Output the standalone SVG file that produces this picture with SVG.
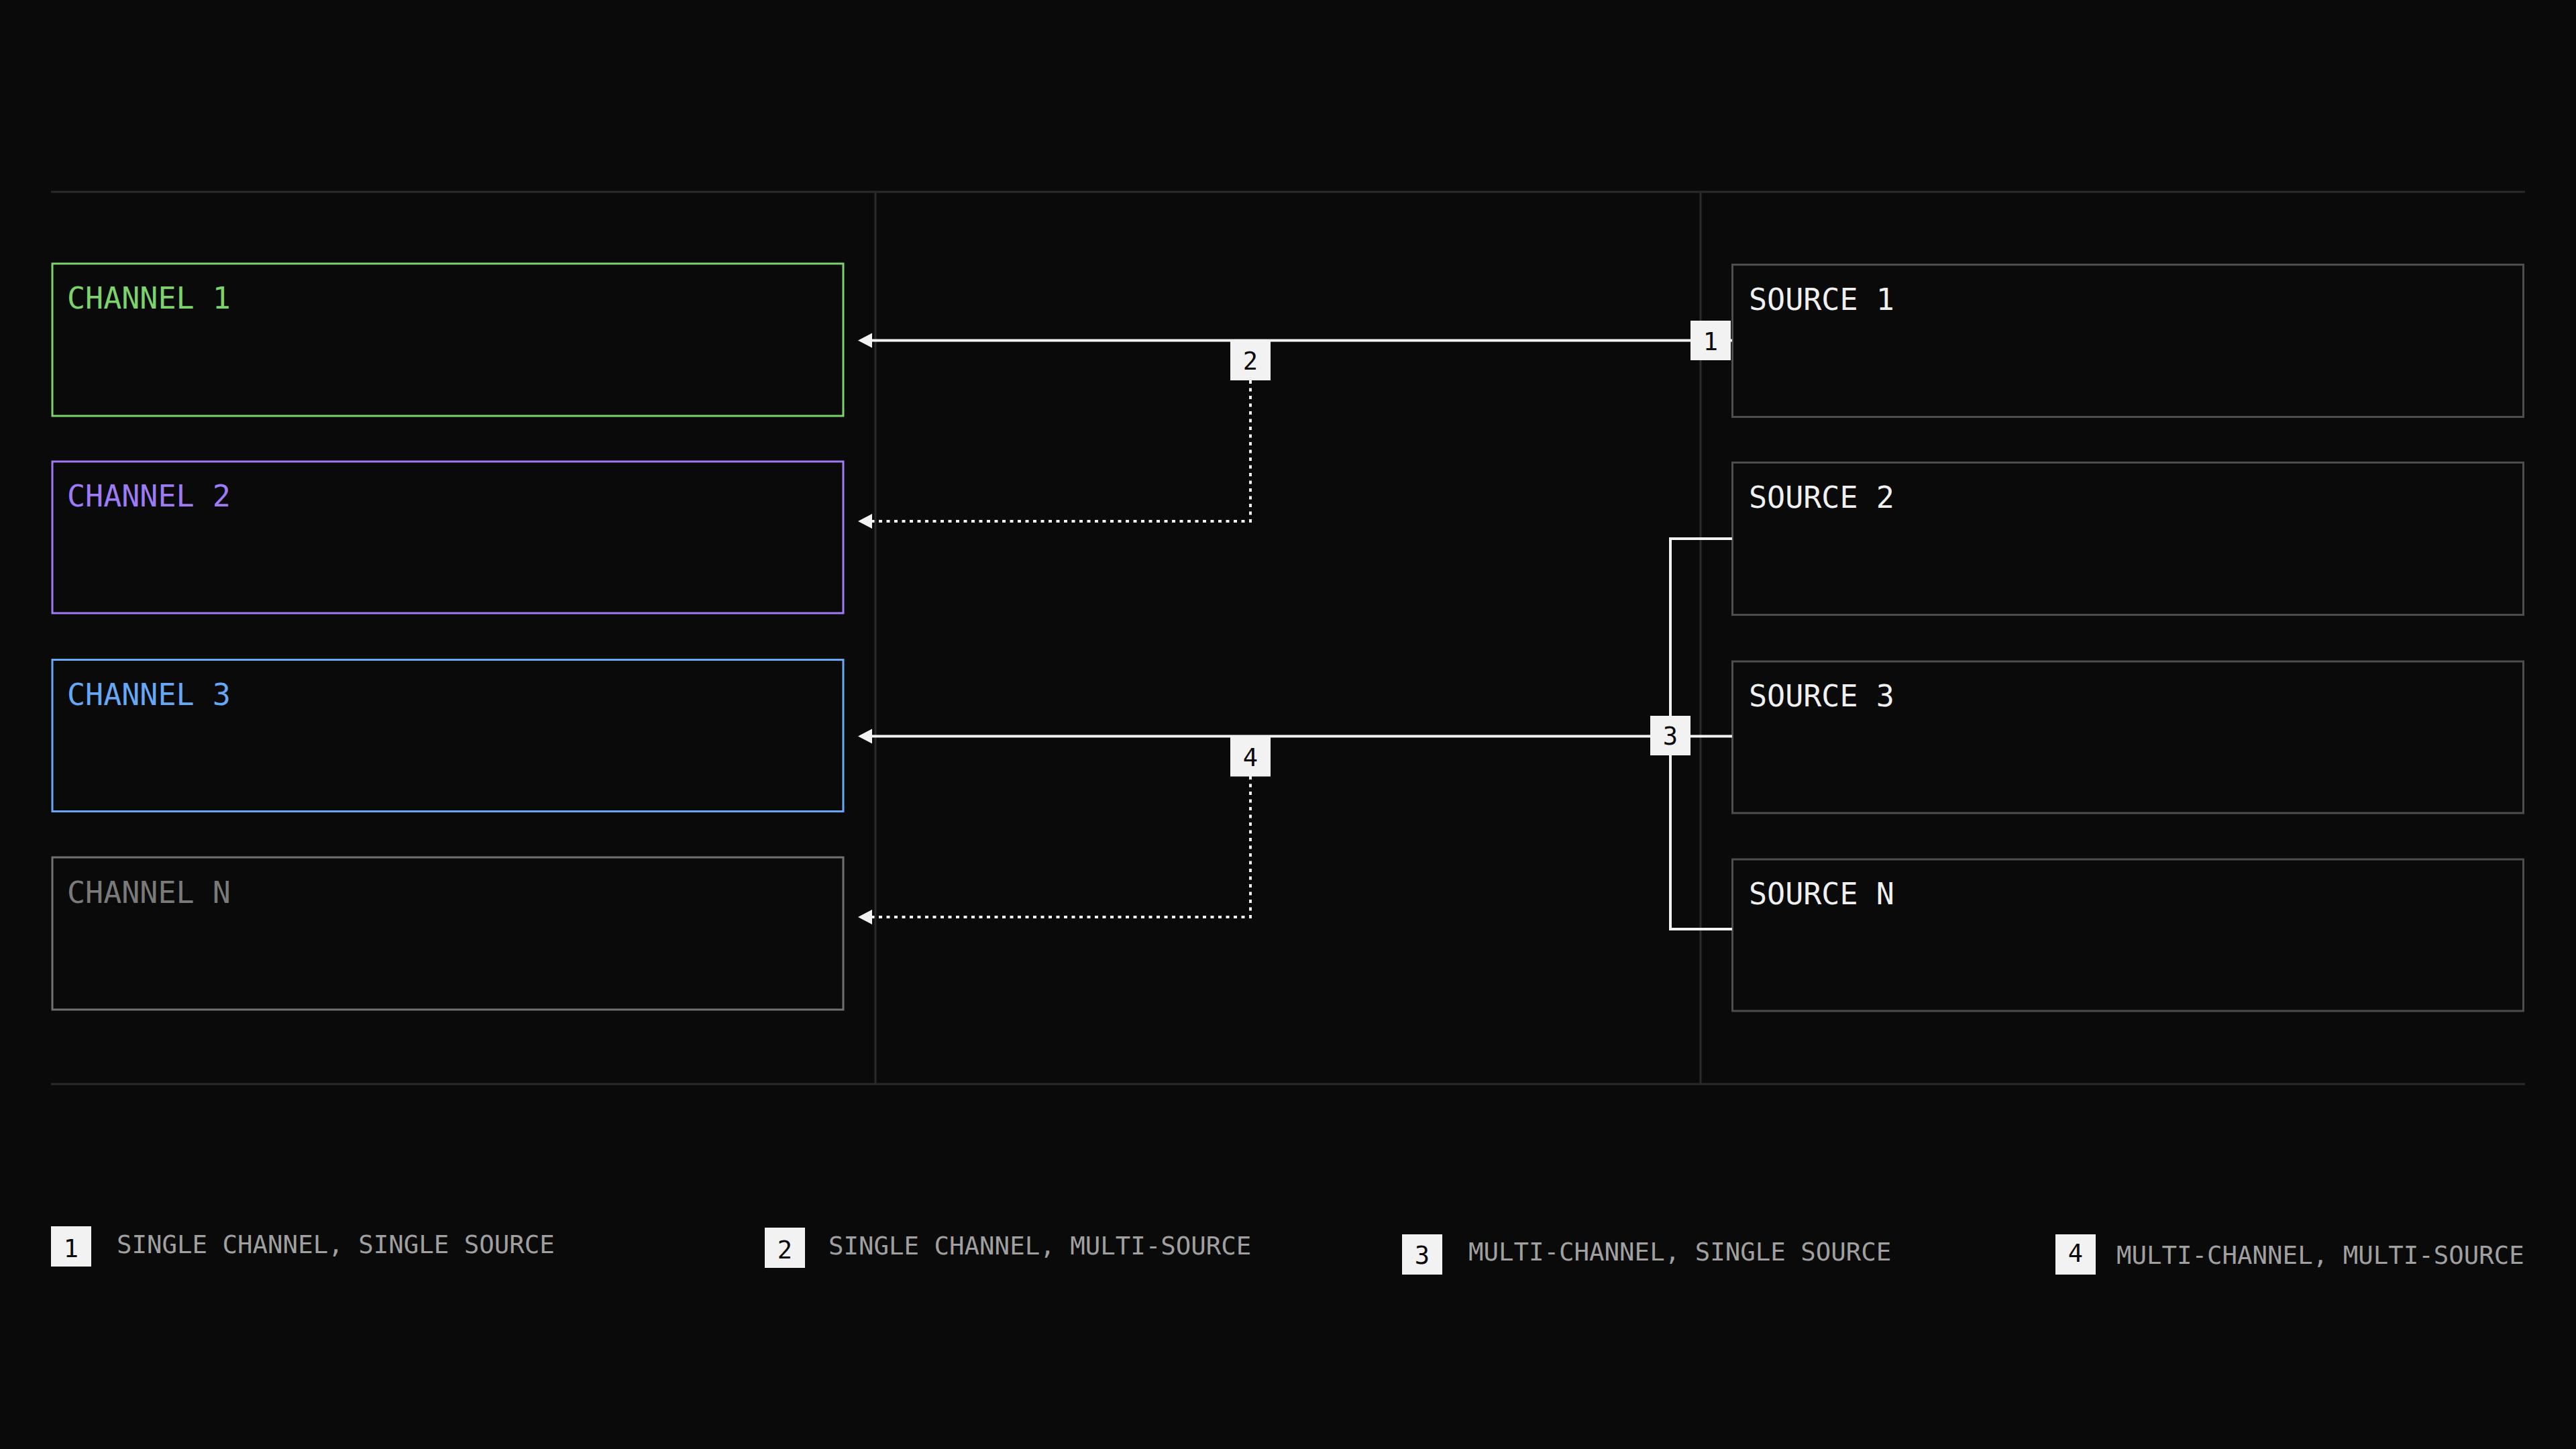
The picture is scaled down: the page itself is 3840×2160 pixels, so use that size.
<svg xmlns="http://www.w3.org/2000/svg" width="3840" height="2160" viewBox="0 0 3840 2160">
<style>
.grid{stroke:#2a2a2a;stroke-width:3;fill:none}
.box{fill:#0a0a0a;stroke-width:3}
.lbl{font-family:"DejaVu Sans Mono","Liberation Mono",monospace;font-size:45px}
.conn{stroke:#f2f2f2;stroke-width:4;fill:none}
.dot{stroke-dasharray:5 6.5}
.head{fill:#f2f2f2}
.tag{fill:#f2f2f2}
.tagt{font-family:"DejaVu Sans Mono","Liberation Mono",monospace;font-size:37px;fill:#0a0a0a;text-anchor:middle}
.leg{font-family:"DejaVu Sans Mono","Liberation Mono",monospace;font-size:37.4px;fill:#a0a0a0}
</style>
<rect x="0" y="0" width="3840" height="2160" fill="#0a0a0a"/>
<g id="grid">
<line class="grid" x1="76" y1="286" x2="3764" y2="286"/>
<line class="grid" x1="76" y1="1616" x2="3764" y2="1616"/>
<line class="grid" x1="1305" y1="286" x2="1305" y2="1616"/>
<line class="grid" x1="2535" y1="286" x2="2535" y2="1616"/>
</g>
<g id="channel-1"><rect class="box" x="78" y="393" width="1179" height="227" stroke="#7dd26c"/><text class="lbl" x="100" y="460" fill="#7dd26c">CHANNEL 1</text></g>
<g id="channel-2"><rect class="box" x="78" y="688" width="1179" height="226" stroke="#9d7bf5"/><text class="lbl" x="100" y="755" fill="#9d7bf5">CHANNEL 2</text></g>
<g id="channel-3"><rect class="box" x="78" y="983.5" width="1179" height="226" stroke="#66a8f5"/><text class="lbl" x="100" y="1051" fill="#66a8f5">CHANNEL 3</text></g>
<g id="channel-n"><rect class="box" x="78" y="1278" width="1179" height="227" stroke="#707070"/><text class="lbl" x="100" y="1346" fill="#7a7a7a">CHANNEL N</text></g>
<g id="source-1"><rect class="box" x="2582.5" y="394.5" width="1179" height="227" stroke="#4d4d4d"/><text class="lbl" x="2607" y="462" fill="#f0f0f0">SOURCE 1</text></g>
<g id="source-2"><rect class="box" x="2582.5" y="689.5" width="1179" height="227" stroke="#4d4d4d"/><text class="lbl" x="2607" y="757" fill="#f0f0f0">SOURCE 2</text></g>
<g id="source-3"><rect class="box" x="2582.5" y="986" width="1179" height="226" stroke="#4d4d4d"/><text class="lbl" x="2607" y="1053" fill="#f0f0f0">SOURCE 3</text></g>
<g id="source-n"><rect class="box" x="2582.5" y="1281" width="1179" height="226" stroke="#4d4d4d"/><text class="lbl" x="2607" y="1348" fill="#f0f0f0">SOURCE N</text></g>
<g id="connectors">
<path class="conn" d="M2582,507.5 H1297"/>
<polygon class="head" points="1279,507.5 1300,496.5 1300,518.5"/>
<path class="conn dot" d="M1864,567 V777 H1297"/>
<polygon class="head" points="1279,777 1300,766 1300,788"/>
<path class="conn" d="M2582,1097.5 H1297"/>
<polygon class="head" points="1279,1097.5 1300,1086.5 1300,1108.5"/>
<path class="conn" d="M2582,803 H2490 V1385 H2582"/>
<path class="conn dot" d="M1864,1157 V1367 H1297"/>
<polygon class="head" points="1279,1367 1300,1356 1300,1378"/>
<g id="tag-1"><rect class="tag" x="2520" y="478" width="60" height="59"/><text class="tagt" x="2550" y="521.5">1</text></g>
<g id="tag-2"><rect class="tag" x="1834" y="508" width="60" height="59"/><text class="tagt" x="1864" y="551">2</text></g>
<g id="tag-3"><rect class="tag" x="2460" y="1067" width="60" height="59"/><text class="tagt" x="2490" y="1110">3</text></g>
<g id="tag-4"><rect class="tag" x="1834" y="1098.5" width="60" height="59"/><text class="tagt" x="1864" y="1141.5">4</text></g>
</g>
<g id="legend">
<g id="legend-1"><rect class="tag" x="76" y="1828" width="60" height="60"/><text class="tagt" x="106" y="1874">1</text><text class="leg" x="174" y="1868">SINGLE CHANNEL, SINGLE SOURCE</text></g>
<g id="legend-2"><rect class="tag" x="1140" y="1830" width="60" height="60"/><text class="tagt" x="1170" y="1876">2</text><text class="leg" x="1235" y="1870">SINGLE CHANNEL, MULTI-SOURCE</text></g>
<g id="legend-3"><rect class="tag" x="2090" y="1840" width="60" height="60"/><text class="tagt" x="2120" y="1884">3</text><text class="leg" x="2189" y="1879">MULTI-CHANNEL, SINGLE SOURCE</text></g>
<g id="legend-4"><rect class="tag" x="3064" y="1840" width="60" height="60"/><text class="tagt" x="3094" y="1881">4</text><text class="leg" x="3155" y="1884">MULTI-CHANNEL, MULTI-SOURCE</text></g>
</g>
</svg>
